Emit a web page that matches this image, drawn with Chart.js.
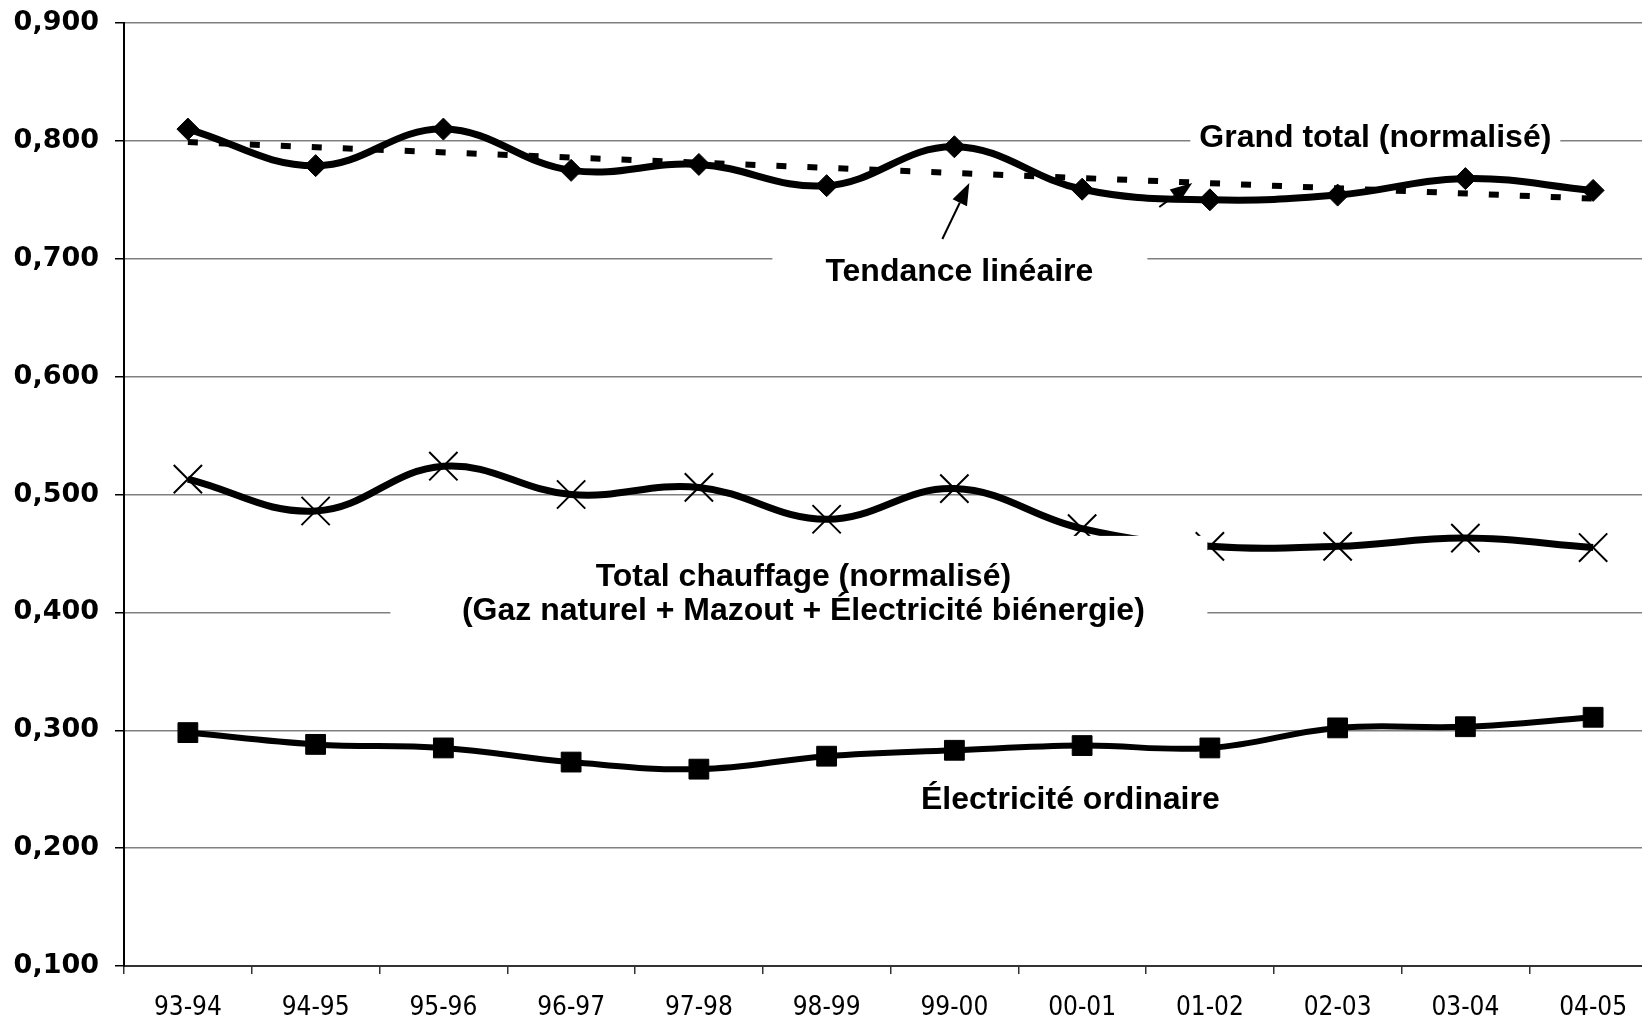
<!DOCTYPE html>
<html>
<head>
<meta charset="utf-8">
<script src="https://cdn.jsdelivr.net/npm/chart.js@4/dist/chart.umd.min.js"></script>
<style>
html, body { margin: 0; padding: 0; overflow: hidden; background: #fff; }
#graphe { display: block; }
</style>
</head>
<body>
<canvas id="graphe" width="1657" height="1018"></canvas>
<script>
// Données
var V_annees = ['93-94', '94-95', '95-96', '96-97', '97-98', '98-99', '99-00', '00-01', '01-02', '02-03', '03-04', '04-05'];
var V_grand_total = [0.810, 0.779, 0.810, 0.775, 0.780, 0.762, 0.795, 0.759, 0.750, 0.754, 0.768, 0.758];
var V_tendance = [0.799, null, null, null, null, null, null, null, null, null, null, 0.751];
var V_chauffage = [0.513, 0.486, 0.524, 0.500, 0.506, 0.479, 0.505, 0.471, 0.456, 0.456, 0.463, 0.455];
var V_electricite = [0.298, 0.288, 0.285, 0.273, 0.267, 0.278, 0.283, 0.287, 0.285, 0.302, 0.303, 0.311];
var I_y_min = 0.1, I_y_max = 0.9, I_y_pas = 0.1;

// Étiquettes posées sur le graphique (x = index de catégorie, y = valeur)
var V_textes = [
    { V_lignes: ['Grand total (normalisé)'], I_x: 9.295, I_y: 0.8025, V_boite: [-185, 185, -14, 14] },
    { V_lignes: ['Tendance linéaire'], I_x: 6.039, I_y: 0.6888, V_boite: [-187, 188, -29, 26] },
    { V_lignes: ['Total chauffage (normalisé)', '(Gaz naturel + Mazout + Électricité biénergie)'], I_x: 4.818, I_y: 0.4301, V_boite: [-413, 404, -41, 51] },
    { V_lignes: ['Électricité ordinaire'], I_x: 6.908, I_y: 0.2410, V_boite: [-150, 150, -16, 16] }
];
var V_fleches = [
    { V_de: [5.906, 0.7168], V_vers: [6.117, 0.7643] },
    { V_de: [7.604, 0.7439], V_vers: [7.862, 0.7643] }
];

var S_police_txt = 'bold 32px "Liberation Sans", Arial, sans-serif';
var I_interligne = 34;

var O_plugin_annotations = {
    id: 'annotations',
    afterDatasetsDraw: function(O_chart) {
        var O_ctx = O_chart.ctx;
        var O_x = O_chart.scales.x, O_y = O_chart.scales.y;
        O_ctx.save();

        // flèches
        O_ctx.strokeStyle = '#000';
        O_ctx.fillStyle = '#000';
        O_ctx.lineWidth = 2;
        V_fleches.forEach(function(O_f) {
            var x1 = O_x.getPixelForValue(O_f.V_de[0]), y1 = O_y.getPixelForValue(O_f.V_de[1]);
            var x2 = O_x.getPixelForValue(O_f.V_vers[0]), y2 = O_y.getPixelForValue(O_f.V_vers[1]);
            var a = Math.atan2(y2 - y1, x2 - x1);
            var L = 22, W = 8;
            var bx = x2 - L * Math.cos(a), by = y2 - L * Math.sin(a);
            O_ctx.beginPath();
            O_ctx.moveTo(x1, y1);
            O_ctx.lineTo(bx, by);
            O_ctx.stroke();
            O_ctx.beginPath();
            O_ctx.moveTo(x2, y2);
            O_ctx.lineTo(bx + W * Math.sin(a), by - W * Math.cos(a));
            O_ctx.lineTo(bx - W * Math.sin(a), by + W * Math.cos(a));
            O_ctx.closePath();
            O_ctx.fill();
        });

        // boîtes blanches + textes
        O_ctx.font = S_police_txt;
        O_ctx.textAlign = 'center';
        O_ctx.textBaseline = 'middle';
        V_textes.forEach(function(O_t) {
            var cx = O_x.getPixelForValue(O_t.I_x), cy = O_y.getPixelForValue(O_t.I_y);
            var b = O_t.V_boite;
            O_ctx.fillStyle = '#fff';
            O_ctx.fillRect(cx + b[0], cy + b[2], b[1] - b[0], b[3] - b[2]);
            O_ctx.fillStyle = '#000';
            O_t.V_lignes.forEach(function(S_l, I_i) {
                O_ctx.fillText(S_l, cx, cy + I_i * I_interligne);
            });
        });
        O_ctx.restore();
    }
};

var O_ctx_graphe = document.getElementById('graphe').getContext('2d');
var O_graphe = new Chart(O_ctx_graphe, {
    type: 'line',
    data: {
        labels: V_annees,
        datasets: [
            {
                label: 'Tendance linéaire',
                data: V_tendance,
                spanGaps: true,
                borderColor: '#000',
                borderWidth: 6,
                borderDash: [10, 21],
                borderCapStyle: 'butt',
                tension: 0,
                pointRadius: 0
            },
            {
                label: 'Grand total (normalisé)',
                data: V_grand_total,
                borderColor: '#000',
                borderWidth: 7,
                tension: 0.4,
                pointStyle: 'rectRot',
                pointRadius: 11,
                pointBackgroundColor: '#000',
                pointBorderColor: '#000',
                pointBorderWidth: 1
            },
            {
                label: 'Total chauffage (normalisé)',
                data: V_chauffage,
                borderColor: '#000',
                borderWidth: 7,
                tension: 0.4,
                pointStyle: 'crossRot',
                pointRadius: 20,
                pointBorderColor: '#000',
                pointBorderWidth: 2
            },
            {
                label: 'Électricité ordinaire',
                data: V_electricite,
                borderColor: '#000',
                borderWidth: 6,
                tension: 0.4,
                pointStyle: 'rect',
                pointRadius: 14,
                pointBackgroundColor: '#000',
                pointBorderColor: '#000',
                pointBorderWidth: 1
            }
        ]
    },
    options: {
        responsive: false,
        animation: false,
        events: [],
        layout: { autoPadding: false, padding: { top: 23, right: 0, left: 0, bottom: 0 } },
        plugins: {
            legend: { display: false },
            tooltip: { enabled: false }
        },
        scales: {
            x: {
                offset: true,
                grid: { display: true, drawOnChartArea: false, drawTicks: true, tickLength: 8, offset: true, color: '#333', tickColor: '#333', lineWidth: 1.5 },
                border: { display: true, color: '#333', width: 2 },
                ticks: {
                    color: '#000',
                    padding: 19,
                    maxRotation: 0,
                    autoSkip: false,
                    font: { family: '"Liberation Sans Narrow", "DejaVu Sans Condensed", "Liberation Sans", sans-serif', size: 26 }
                },
                afterFit: function(O_s) {
                    O_s.height = 52;
                    O_s.paddingLeft = 0;
                    O_s.paddingRight = 0;
                }
            },
            y: {
                min: I_y_min,
                max: I_y_max,
                grid: { color: '#808080', lineWidth: 1.5, tickLength: 9, tickColor: '#000', tickWidth: 1.5 },
                border: { display: true, color: '#000', width: 2 },
                ticks: {
                    stepSize: I_y_pas,
                    color: '#000',
                    padding: 16,
                    font: { family: '"DejaVu Sans", Verdana, sans-serif', size: 27, weight: 'bold' },
                    callback: function(v) { return v.toFixed(3).replace('.', ','); }
                },
                afterFit: function(O_s) {
                    O_s.width = 124;
                    O_s.paddingTop = 0;
                    O_s.paddingBottom = 0;
                }
            }
        }
    },
    plugins: [O_plugin_annotations]
});
</script>
</body>
</html>
